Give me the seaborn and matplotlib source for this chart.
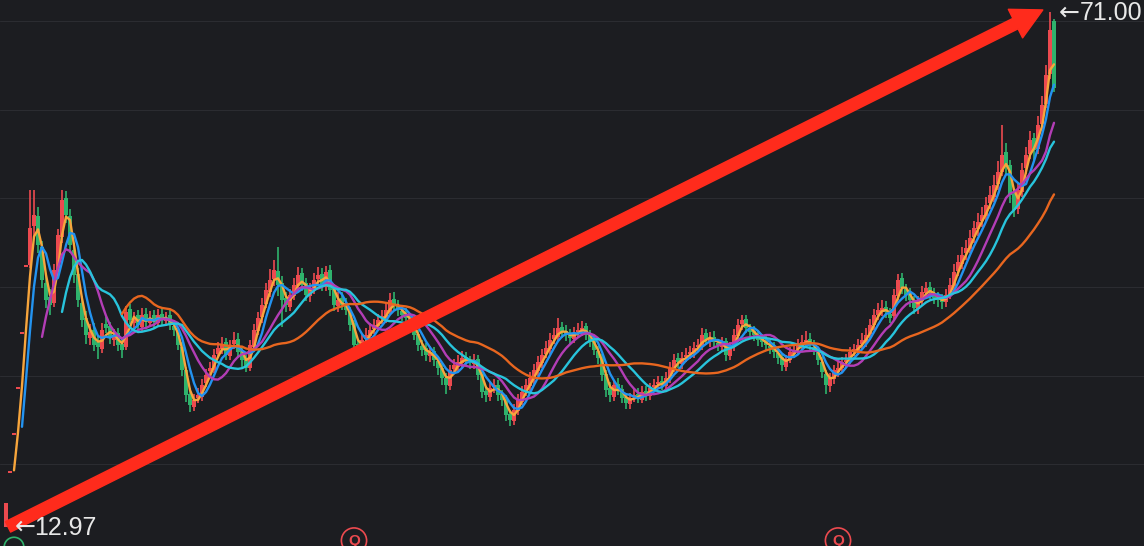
import numpy as np
import pandas as pd
import seaborn as sns
import matplotlib.pyplot as plt

# daily candles (one candle every ~4 px)
opens = [
    12.97, 19.04, 23.33, 28.51, 34.71, 42.27, 42.50, 46.90, 48.00, 44.50,
    40.50, 38.90, 38.20, 41.70, 45.60, 50.00, 48.00, 44.20, 41.50, 38.20,
    36.50, 34.30, 35.20, 33.80, 33.00, 35.80, 35.60, 34.00, 34.80, 33.60,
    33.20, 37.50, 36.00, 36.80, 35.50, 37.00, 36.00, 36.80, 36.00, 37.00,
    36.20, 36.80, 35.60, 35.00, 33.30, 30.60, 28.00, 26.50, 27.50, 27.60,
    29.20, 30.50, 30.70, 32.50, 33.00, 33.80, 32.20, 33.60, 34.20, 32.80,
    31.90, 30.90, 33.20, 35.00, 36.60, 38.10, 39.50, 40.90, 41.80, 40.50,
    38.80, 37.80, 39.00, 40.10, 41.60, 40.50, 39.00, 39.80, 40.90, 41.50,
    40.00, 41.90, 39.80, 37.90, 38.80, 38.10, 37.30, 35.90, 33.60, 32.80,
    34.20, 34.50, 35.30, 35.60, 36.50, 36.30, 37.20, 38.70, 38.00, 37.30,
    36.90, 36.50, 36.20, 34.70, 33.40, 33.10, 32.20, 32.80, 31.70, 30.90,
    29.80, 28.80, 30.80, 31.00, 31.40, 32.10, 31.60, 31.30, 31.90, 30.20,
    28.30, 27.60, 28.70, 29.00, 27.90, 27.40, 25.70, 24.90, 26.00, 27.10,
    28.20, 28.80, 29.60, 30.50, 31.40, 32.50, 33.00, 34.20, 34.40, 35.50,
    35.10, 34.70, 34.20, 34.90, 35.00, 35.60, 34.70, 33.90, 32.80, 32.10,
    30.20, 28.60, 27.60, 29.10, 28.50, 27.60, 26.80, 27.60, 28.00, 27.30,
    28.30, 27.70, 28.70, 29.10, 29.40, 28.90, 29.60, 30.90, 32.00, 31.30,
    32.10, 32.50, 32.60, 33.30, 33.30, 34.80, 33.90, 34.40, 33.60, 33.30,
    33.90, 32.20, 33.20, 34.50, 35.80, 36.40, 35.20, 35.00, 34.40, 34.10,
    33.90, 33.30, 33.20, 32.60, 32.10, 31.00, 31.80, 32.50, 33.00, 33.60,
    33.70, 34.20, 33.30, 32.80, 31.60, 30.20, 28.80, 29.60, 30.40, 30.90,
    31.60, 31.80, 32.80, 32.80, 33.60, 33.80, 34.70, 35.70, 36.90, 37.20,
    37.80, 37.00, 36.70, 39.00, 41.00, 39.80, 39.30, 38.40, 37.50, 38.40,
    39.30, 40.00, 39.20, 38.90, 38.50, 38.30, 39.20, 40.10, 41.80, 42.60,
    43.80, 44.30, 45.60, 46.50, 47.50, 48.00, 49.50, 50.20, 51.60, 53.00,
    55.20, 53.80, 50.50, 48.80, 50.70, 53.40, 55.00, 56.80, 55.60, 58.40,
    60.70, 64.00, 70.00,
]
highs = [
    15.66, 19.04, 23.33, 28.51, 34.71, 42.27, 51.00, 51.00, 49.00, 45.20,
    41.20, 39.80, 42.60, 46.50, 51.00, 50.80, 48.80, 45.00, 42.20, 39.00,
    37.30, 35.80, 35.90, 34.60, 35.90, 36.60, 36.10, 35.30, 35.40, 34.20,
    37.90, 38.10, 37.20, 37.40, 37.60, 37.70, 37.30, 37.40, 37.50, 37.60,
    37.20, 37.40, 36.30, 35.50, 33.80, 31.00, 28.60, 28.00, 28.60, 29.60,
    30.80, 31.60, 33.00, 33.80, 34.40, 34.30, 34.00, 34.90, 34.80, 33.30,
    32.40, 34.00, 35.80, 37.20, 38.80, 40.50, 42.00, 43.00, 44.50, 41.20,
    39.50, 39.80, 41.00, 42.30, 42.20, 41.00, 40.50, 41.60, 42.30, 42.10,
    42.40, 42.50, 40.30, 39.40, 39.50, 38.80, 37.80, 36.30, 34.20, 34.70,
    35.40, 35.90, 36.40, 37.00, 37.40, 38.20, 39.30, 39.40, 38.60, 38.00,
    37.60, 37.10, 36.70, 35.20, 34.00, 33.70, 33.40, 33.30, 32.20, 31.40,
    30.30, 31.20, 31.90, 32.30, 32.80, 32.70, 32.20, 32.50, 32.30, 30.60,
    28.90, 29.30, 29.60, 29.50, 28.40, 27.80, 26.20, 26.80, 27.90, 28.80,
    29.60, 30.40, 31.30, 32.20, 33.00, 33.90, 34.80, 35.40, 36.50, 36.10,
    35.70, 35.30, 35.50, 35.90, 36.20, 36.00, 35.20, 34.40, 33.40, 32.50,
    30.60, 29.30, 29.50, 29.70, 29.00, 28.10, 28.10, 28.50, 28.60, 28.80,
    28.90, 29.20, 29.60, 30.00, 30.00, 30.40, 31.50, 32.50, 32.60, 32.70,
    33.10, 33.40, 33.80, 34.20, 35.40, 35.30, 34.90, 35.00, 34.20, 34.40,
    34.30, 33.80, 35.30, 36.40, 36.90, 36.90, 35.80, 35.60, 35.00, 34.70,
    34.50, 34.00, 33.80, 33.20, 32.60, 32.40, 33.30, 33.60, 34.20, 34.60,
    35.00, 34.80, 34.00, 33.20, 32.10, 30.70, 30.30, 31.20, 31.50, 32.10,
    32.50, 33.30, 33.60, 34.10, 34.80, 35.40, 36.40, 37.50, 38.20, 38.50,
    38.40, 37.60, 39.80, 41.50, 41.60, 40.40, 39.90, 39.00, 39.00, 40.10,
    40.60, 40.60, 39.90, 39.50, 39.20, 39.80, 41.00, 42.60, 43.60, 44.50,
    45.30, 46.40, 47.50, 48.30, 49.00, 50.20, 51.40, 52.60, 54.20, 58.30,
    56.20, 54.30, 51.00, 51.70, 54.00, 55.80, 57.60, 57.40, 59.30, 61.60,
    65.00, 71.00, 70.20,
]
lows = [
    12.97, 19.04, 23.33, 28.51, 34.71, 42.27, 42.20, 45.60, 43.80, 39.90,
    37.60, 36.80, 37.80, 41.20, 45.00, 47.20, 43.90, 40.50, 37.80, 35.50,
    33.60, 33.50, 32.80, 31.90, 32.60, 34.80, 33.60, 33.40, 32.80, 32.00,
    32.90, 35.80, 35.40, 35.00, 35.10, 35.50, 35.50, 35.40, 35.60, 35.70,
    35.60, 35.20, 34.50, 32.90, 30.00, 27.00, 25.90, 26.00, 26.90, 27.20,
    28.70, 29.80, 30.30, 32.00, 32.50, 31.80, 31.80, 33.00, 32.00, 31.00,
    30.40, 30.50, 32.80, 34.60, 36.00, 37.60, 38.90, 40.10, 39.00, 35.50,
    37.20, 37.30, 38.50, 39.60, 39.60, 38.40, 38.30, 39.20, 40.30, 39.60,
    39.60, 39.00, 37.30, 37.20, 37.40, 36.80, 35.00, 32.40, 32.00, 32.30,
    33.60, 34.00, 34.70, 35.10, 35.80, 35.90, 36.80, 37.30, 36.70, 36.20,
    35.90, 35.40, 34.00, 32.80, 32.20, 31.70, 31.60, 31.10, 30.10, 29.00,
    28.00, 28.40, 30.20, 30.50, 30.90, 31.10, 30.80, 30.80, 29.50, 27.50,
    27.10, 27.20, 28.10, 27.20, 26.60, 24.90, 24.30, 24.50, 25.60, 26.70,
    27.70, 28.30, 29.10, 30.00, 30.90, 32.00, 32.50, 33.60, 33.90, 34.30,
    33.90, 33.60, 33.70, 34.30, 34.50, 34.00, 33.20, 32.30, 31.30, 29.40,
    27.60, 27.10, 27.20, 27.80, 26.90, 26.30, 26.30, 27.00, 26.90, 26.90,
    27.20, 27.30, 28.20, 28.50, 28.40, 28.50, 29.20, 30.40, 30.90, 30.80,
    31.50, 31.90, 32.00, 32.70, 32.90, 33.50, 33.30, 33.20, 32.80, 32.80,
    31.70, 31.80, 32.80, 34.10, 35.20, 34.80, 34.30, 33.90, 33.40, 33.20,
    32.80, 32.50, 32.00, 31.30, 30.50, 30.50, 31.40, 32.00, 32.50, 33.00,
    33.10, 32.90, 32.30, 31.20, 29.80, 28.00, 28.20, 29.10, 29.90, 30.40,
    31.00, 31.30, 32.20, 32.30, 33.00, 33.30, 34.20, 35.20, 36.30, 36.70,
    36.50, 35.90, 36.30, 38.60, 39.20, 38.40, 37.80, 37.00, 37.00, 38.00,
    38.80, 38.70, 38.10, 37.80, 37.50, 37.80, 38.70, 39.60, 41.20, 42.00,
    43.00, 43.80, 45.00, 45.80, 46.80, 47.40, 48.80, 49.60, 51.00, 52.50,
    52.80, 49.50, 47.90, 48.20, 50.20, 52.80, 54.40, 54.30, 55.00, 57.80,
    60.20, 63.50, 62.00,
]
closes = [
    15.66, 19.04, 23.33, 28.51, 34.71, 42.27, 46.67, 48.13, 44.75, 40.80,
    38.55, 37.98, 41.93, 45.87, 49.82, 48.13, 44.75, 41.36, 38.55, 36.29,
    34.60, 34.90, 33.47, 33.20, 35.16, 35.39, 34.27, 34.60, 33.47, 32.91,
    37.19, 36.29, 36.52, 35.73, 36.85, 36.06, 36.52, 36.06, 36.85, 36.29,
    36.52, 35.73, 35.16, 33.47, 30.65, 27.84, 26.71, 27.27, 27.84, 28.96,
    30.09, 30.88, 32.35, 33.14, 33.47, 32.35, 33.47, 34.04, 32.69, 31.78,
    30.88, 33.47, 35.16, 36.52, 37.98, 39.67, 40.80, 41.93, 40.24, 38.55,
    37.98, 39.11, 40.24, 41.36, 40.24, 39.11, 39.67, 40.80, 41.36, 40.24,
    41.70, 39.67, 37.98, 38.55, 37.98, 37.42, 35.73, 33.47, 32.91, 34.04,
    34.60, 35.16, 35.73, 36.29, 36.52, 37.42, 38.55, 37.98, 37.42, 36.85,
    36.52, 36.06, 34.60, 33.47, 32.91, 32.35, 32.69, 31.78, 30.88, 29.75,
    28.96, 30.65, 31.22, 31.56, 32.01, 31.78, 31.44, 31.78, 30.09, 28.17,
    27.84, 28.62, 28.96, 27.84, 27.27, 25.58, 25.02, 26.14, 27.27, 28.17,
    28.96, 29.75, 30.65, 31.56, 32.35, 33.14, 34.04, 34.60, 35.39, 34.94,
    34.60, 34.27, 34.83, 35.16, 35.39, 34.60, 33.81, 32.91, 32.01, 30.09,
    28.40, 27.84, 28.96, 28.40, 27.50, 26.93, 27.50, 27.84, 27.50, 28.17,
    27.84, 28.62, 28.96, 29.30, 28.96, 29.75, 30.88, 31.78, 31.56, 32.01,
    32.35, 32.69, 33.14, 33.47, 34.60, 34.04, 34.27, 33.81, 33.47, 33.81,
    32.35, 33.14, 34.60, 35.73, 36.29, 35.39, 34.94, 34.60, 34.04, 33.81,
    33.47, 33.14, 32.69, 32.01, 31.22, 31.78, 32.69, 32.91, 33.47, 33.81,
    34.04, 33.47, 32.91, 31.78, 30.43, 28.96, 29.75, 30.65, 30.88, 31.56,
    31.78, 32.69, 32.91, 33.47, 34.04, 34.60, 35.73, 36.85, 37.42, 37.64,
    37.19, 36.52, 39.11, 40.80, 39.90, 39.11, 38.55, 37.64, 38.32, 39.45,
    39.90, 39.33, 38.77, 38.55, 38.32, 39.11, 40.24, 41.70, 42.83, 43.62,
    44.41, 45.54, 46.67, 47.34, 48.13, 49.26, 50.38, 51.51, 52.98, 54.89,
    53.77, 50.38, 48.69, 50.95, 53.20, 54.89, 56.58, 55.46, 58.27, 60.53,
    63.91, 68.99, 62.45,
]

ma_windows = [3, 5, 10, 15, 30]
ma_colors = ['#f7a53c', '#2393f0', '#b33db6', '#28c4dc', '#e8661f']
q_events = [87, 208]      # red "Q" markers under the axis
d_events = [2]            # green marker bottom left
grid_levels = [20, 30, 40, 50, 60, 70]

bg = '#1c1d21'
red = '#ec4a4f'
green = '#2fb36c'
arrow_red = '#ff2b1c'
txt = '#e8e8e8'

sns.set_theme(style='dark', rc={'axes.facecolor': bg, 'figure.facecolor': bg,
                                'grid.color': '#2b2c31', 'grid.linewidth': 0.8})
plt.rcParams['font.family'] = ['Liberation Sans', 'DejaVu Sans']

df = pd.DataFrame({'o': opens, 'h': highs, 'l': lows, 'c': closes})
df['i'] = np.arange(len(df))
col = np.where(df.c >= df.o, red, green)

fig = plt.figure(figsize=(11.44, 5.46), dpi=100)
ax = fig.add_axes([0, 0, 1, 1])

# candles
ax.vlines(df.i, df.l, df.h, colors=col, lw=1.2, zorder=2)
body_lo = np.minimum(df.o, df.c)
body_h = np.maximum((df.c - df.o).abs(), 0.2)
ax.bar(df.i, body_h, bottom=body_lo, width=0.9, color=col, linewidth=0, zorder=2)

# moving averages
ma = pd.DataFrame({f'MA{w}': df.c.rolling(w).mean() for w in ma_windows})
ma['i'] = df.i
ma_long = ma.melt('i', var_name='ma', value_name='v').dropna()
sns.lineplot(data=ma_long, x='i', y='v', hue='ma',
             palette=dict(zip([f'MA{w}' for w in ma_windows], ma_colors)),
             lw=1.7, legend=False, ax=ax, zorder=3)

# big arrow from first low to top
peak_i = int(np.argmax(highs))
ax.annotate('', xy=(peak_i - 1.8, max(highs) + 0.25), xytext=(0.5, min(lows)),
            arrowprops=dict(arrowstyle='simple,head_length=1.1,head_width=1.15,tail_width=0.42',
                            color=arrow_red, mutation_scale=20, shrinkA=0, shrinkB=0),
            zorder=5)

# min / max labels
for xi, val, dx_arrow, dx_num in [(0, min(lows), 6.0, 20.5), (peak_i, max(highs), 6.0, 21.5)]:
    ax.annotate('←', xy=(xi, val), xytext=(dx_arrow, 0), textcoords='offset points',
                ha='left', va='center', color=txt, fontsize=18,
                family=['DejaVu Sans'], zorder=6)
    ax.annotate(f'{val:.2f}', xy=(xi, val), xytext=(dx_num, -0.5), textcoords='offset points',
                ha='left', va='center', color=txt, fontsize=18, zorder=6)

# event markers at the bottom edge
tr = ax.get_xaxis_transform()
for e in q_events:
    ax.scatter([e], [0.01], s=330, facecolors='none', edgecolors=red,
               linewidths=1.2, transform=tr, clip_on=False, zorder=6)
    ax.text(e, 0.01, 'Q', transform=tr, ha='center', va='center',
            color=red, fontsize=11, fontweight='bold', zorder=6)
for e in d_events:
    ax.scatter([e], [-0.002], s=200, facecolors='none', edgecolors=green,
               linewidths=1.2, transform=tr, clip_on=False, zorder=6)

ax.set_xlim(-1.5, 284.5)
ax.set_ylim(10.81, 72.37)
ax.set_yticks(grid_levels)
ax.set_xticks([])
ax.tick_params(labelleft=False, left=False)
ax.grid(axis='y', visible=True)
ax.set_xlabel('')
ax.set_ylabel('')
for s in ax.spines.values():
    s.set_visible(False)

fig.savefig('out.png', dpi=100, facecolor=bg)
